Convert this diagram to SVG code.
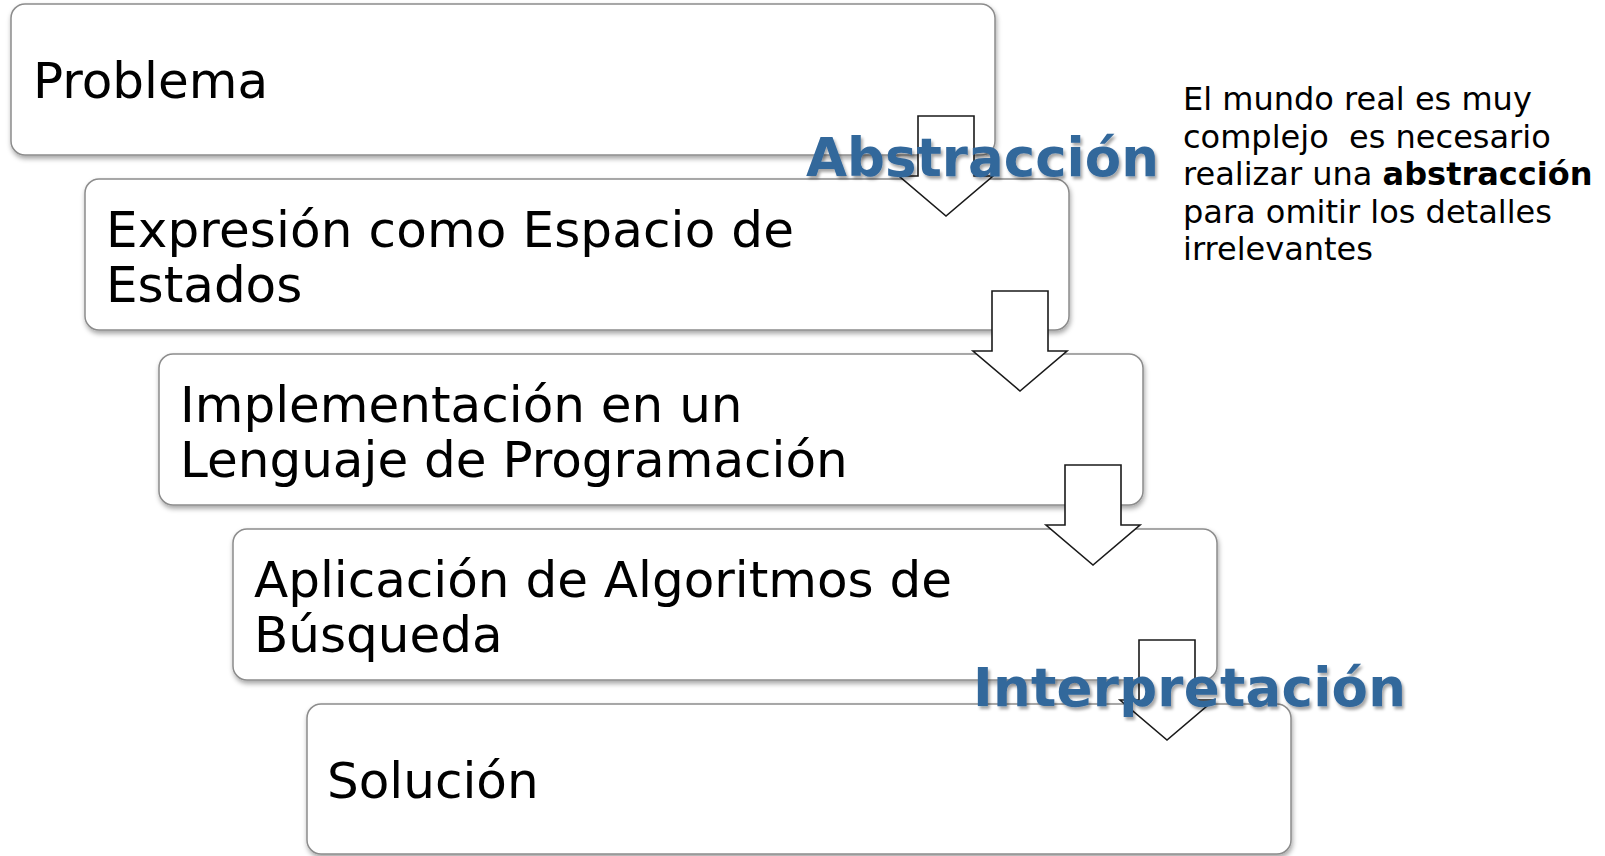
<svg xmlns="http://www.w3.org/2000/svg" width="1605" height="856" viewBox="0 0 1605 856">
<defs>
<filter id="boxShadow" x="-5%" y="-10%" width="110%" height="125%">
<feDropShadow dx="1" dy="3" stdDeviation="2.5" flood-color="#000" flood-opacity="0.35"/>
</filter>
<filter id="txtShadow" x="-5%" y="-20%" width="110%" height="150%">
<feDropShadow dx="2" dy="3" stdDeviation="1.5" flood-color="#000" flood-opacity="0.35"/>
</filter>
</defs>
<style>
.box{fill:#fff;stroke:#8c8c8c;stroke-width:1.5;filter:url(#boxShadow)}
.t{font-family:"DejaVu Sans","Noto Sans",sans-serif;font-size:50px;fill:#000}
.arrow{fill:#fff;stroke:#1a1a1a;stroke-width:1.6;stroke-linejoin:miter}
.lbl{font-family:"DejaVu Sans","Noto Sans",sans-serif;font-weight:bold;font-size:53px;fill:#33679b;filter:url(#txtShadow)}
.note{font-family:"DejaVu Sans","Noto Sans",sans-serif;font-size:32px;fill:#000;white-space:pre}
</style>
<rect width="1605" height="856" fill="#fff"/>
<g id="n1">
<rect class="box" x="11" y="4" width="984" height="151" rx="14"/>
<text class="t" x="33" y="98">Problema</text>
</g>
<g id="n2">
<rect class="box" x="85" y="179" width="984" height="151" rx="14"/>
<text class="t" x="106" y="247" textLength="688">Expresión como Espacio de</text>
<text class="t" x="106" y="302">Estados</text>
</g>
<g id="n3">
<rect class="box" x="159" y="354" width="984" height="151" rx="14"/>
<text class="t" x="180" y="422">Implementación en un</text>
<text class="t" x="180" y="477">Lenguaje de Programación</text>
</g>
<g id="n4">
<rect class="box" x="233" y="529" width="984" height="151" rx="14"/>
<text class="t" x="254" y="597">Aplicación de Algoritmos de</text>
<text class="t" x="254" y="652">Búsqueda</text>
</g>
<g id="n5">
<rect class="box" x="307" y="704" width="984" height="150" rx="14"/>
<text class="t" x="327" y="798">Solución</text>
</g>
<g id="connectors">
<polygon class="arrow" points="918,116 974,116 974,176 993,176 946,216 899,176 918,176"/>
<polygon class="arrow" points="992,291 1048,291 1048,351 1067,351 1020,391 973,351 992,351"/>
<polygon class="arrow" points="1065,465 1121,465 1121,525 1140,525 1093,565 1046,525 1065,525"/>
<polygon class="arrow" points="1139,640 1195,640 1195,700 1214,700 1167,740 1120,700 1139,700"/>
<text class="lbl" x="806" y="176">Abstracción</text>
<text class="lbl" x="973" y="706" textLength="433">Interpretación</text>
</g>
<g id="note">
<text class="note" x="1183" y="110">El mundo real es muy</text>
<text class="note" x="1183" y="147.5">complejo  es necesario</text>
<text class="note" x="1183" y="185">realizar una <tspan font-weight="bold">abstracción</tspan></text>
<text class="note" x="1183" y="222.5">para omitir los detalles</text>
<text class="note" x="1183" y="260">irrelevantes</text>
</g>
</svg>
